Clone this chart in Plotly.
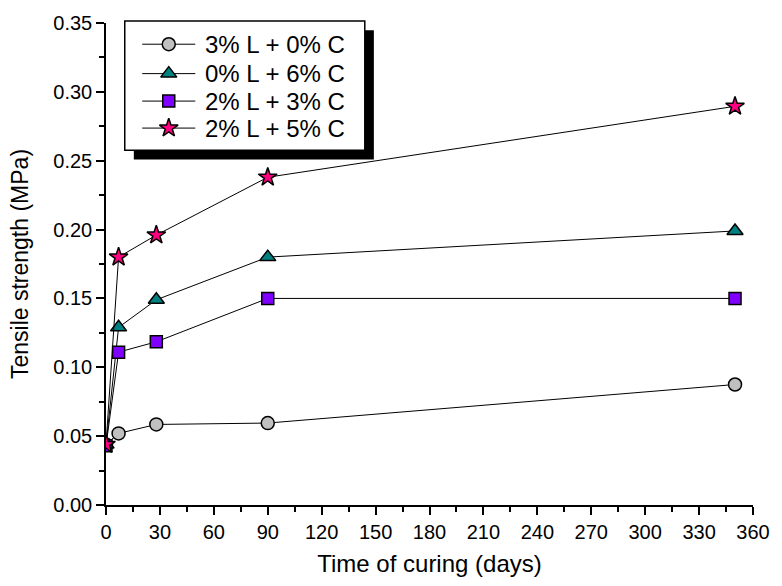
import plotly.graph_objects as go

# Curing time (days) and tensile strength (MPa) for each mix
days = [0, 7, 28, 90, 350]
mix_names = ["3% L + 0% C", "0% L + 6% C", "2% L + 3% C", "2% L + 5% C"]
strength_3L_0C = [0.044, 0.052, 0.0585, 0.0595, 0.0875]
strength_0L_6C = [0.044, 0.129, 0.149, 0.180, 0.199]
strength_2L_3C = [0.043, 0.111, 0.1185, 0.150, 0.150]
strength_2L_5C = [0.044, 0.180, 0.196, 0.238, 0.2895]

x_ticks = list(range(0, 361, 30))
y_ticks = [0.00, 0.05, 0.10, 0.15, 0.20, 0.25, 0.30, 0.35]

series = [
    (mix_names[0], strength_3L_0C, "circle", "#C0C0C0", 13),
    (mix_names[1], strength_0L_6C, "triangle-up", "#008080", 14),
    (mix_names[2], strength_2L_3C, "square", "#8000FF", 12),
    (mix_names[3], strength_2L_5C, "star", "#FF0080", 14),
]

FONT = "Liberation Sans, Arial, sans-serif"

fig = go.Figure()
for name, vals, sym, col, size in series:
    fig.add_trace(go.Scatter(
        x=days, y=vals, name=name, mode="lines+markers", showlegend=False,
        line=dict(color="black", width=1),
        marker=dict(symbol=sym, size=size, color=col,
                    line=dict(color="black", width=1.5)),
    ))

# Framed legend with a drop shadow, laid out in plot-area (paper) fractions
box_x0, box_x1, box_y0, box_y1 = 0.029, 0.400, 0.736, 1.004
shadow_dx, shadow_dy = 0.014, 0.019
row_y = [0.956, 0.895, 0.838, 0.782]
key_x0, key_xm, key_x1, text_x = 0.056, 0.097, 0.138, 0.150

fig.add_shape(type="rect", xref="paper", yref="paper", layer="below",
              x0=box_x0 + shadow_dx, x1=box_x1 + shadow_dx,
              y0=box_y0 - shadow_dy, y1=box_y1 - shadow_dy,
              fillcolor="black", line=dict(width=0))
fig.add_shape(type="rect", xref="paper", yref="paper", layer="below",
              x0=box_x0, x1=box_x1, y0=box_y0, y1=box_y1,
              fillcolor="white", line=dict(color="black", width=1.5))

for (name, vals, sym, col, size), ry in zip(series, row_y):
    # key line
    fig.add_trace(go.Scatter(
        x=[key_x0, key_x1], y=[ry, ry], xaxis="x2", yaxis="y2",
        mode="lines", showlegend=False, hoverinfo="skip", cliponaxis=False,
        line=dict(color="black", width=1),
    ))
    # key symbol
    fig.add_trace(go.Scatter(
        x=[key_xm], y=[ry], xaxis="x2", yaxis="y2",
        mode="markers", showlegend=False, hoverinfo="skip", cliponaxis=False,
        marker=dict(symbol=sym, size=size, color=col, opacity=1,
                    line=dict(color="black", width=1.5)),
    ))
    fig.add_annotation(xref="paper", yref="paper", x=text_x, y=ry,
                       xanchor="left", yanchor="middle", showarrow=False,
                       text=name, font=dict(family=FONT, size=24, color="black"))

axis_common = dict(
    showline=True, linecolor="black", linewidth=1.5,
    ticks="outside", tickcolor="black", tickwidth=1.5, ticklen=8,
    showgrid=False, zeroline=False, mirror=False,
    tickfont=dict(family=FONT, size=20, color="black"),
)

fig.update_layout(
    width=782, height=586,
    margin=dict(l=106, r=18, t=18, b=81),
    plot_bgcolor="white", paper_bgcolor="white",
    font=dict(family=FONT, color="black"),
    showlegend=False,
    xaxis=dict(
        range=[0, 360], tickvals=x_ticks,
        minor=dict(dtick=15, ticks="outside", ticklen=5, tickwidth=1.5, tickcolor="black"),
        title=dict(text="Time of curing (days)",
                   font=dict(family=FONT, size=24, color="black"), standoff=13),
        **axis_common,
    ),
    yaxis=dict(
        range=[0, 0.35], tickvals=y_ticks, tickformat=".2f",
        minor=dict(dtick=0.025, ticks="outside", ticklen=5, tickwidth=1.5, tickcolor="black"),
        title=dict(text="Tensile strength (MPa)",
                   font=dict(family=FONT, size=23, color="black"), standoff=18),
        **axis_common,
    ),
    xaxis2=dict(overlaying="x", range=[0, 1], visible=False, domain=[0, 1],
                anchor="y2", fixedrange=True),
    yaxis2=dict(overlaying="y", range=[0, 1], visible=False, domain=[0, 1],
                anchor="x2", fixedrange=True),
)

fig.write_html("out.html")
